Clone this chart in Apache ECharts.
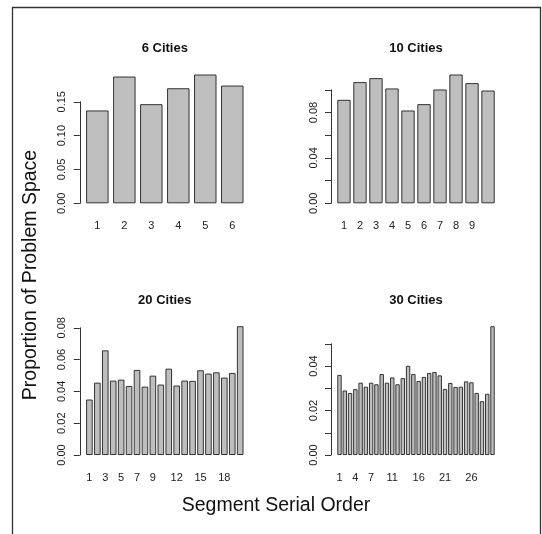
<!DOCTYPE html>
<html>
<head>
<meta charset="utf-8">
<script src="https://cdn.jsdelivr.net/npm/echarts@6/dist/echarts.min.js"></script>
<style>
  html, body { margin: 0; padding: 0; background: #fff; }
  #chart { width: 542px; height: 534px; }
</style>
</head>
<body>
<div id="chart"></div>
<script>
// Share of the problem space covered by each segment, for four tour sizes.
const cats6 = ['1', '2', '3', '4', '5', '6'];
const share6 = [0.1372, 0.1873, 0.1465, 0.1700, 0.1903, 0.1740];

const cats10 = ['1', '2', '3', '4', '5', '6', '7', '8', '9', '10'];
const share10 = [0.0912, 0.1068, 0.1103, 0.1012, 0.0818, 0.0874, 0.1003, 0.1135, 0.1059, 0.0994];

const cats20 = ['1', '2', '3', '4', '5', '6', '7', '8', '9', '10',
                '11', '12', '13', '14', '15', '16', '17', '18', '19', '20'];
const share20 = [0.0349, 0.0455, 0.0658, 0.0468, 0.0474, 0.0434, 0.0535, 0.0430, 0.0499, 0.0443,
                 0.0543, 0.0437, 0.0468, 0.0466, 0.0533, 0.0512, 0.0520, 0.0487, 0.0516, 0.0810];

const cats30 = ['1', '2', '3', '4', '5', '6', '7', '8', '9', '10',
                '11', '12', '13', '14', '15', '16', '17', '18', '19', '20',
                '21', '22', '23', '24', '25', '26', '27', '28', '29', '30'];
const share30 = [0.0360, 0.0290, 0.0279, 0.0296, 0.0325, 0.0307, 0.0325, 0.0318, 0.0364, 0.0325,
                 0.0349, 0.0318, 0.0346, 0.0401, 0.0364, 0.0333, 0.0351, 0.0369, 0.0373, 0.0358,
                 0.0297, 0.0324, 0.0306, 0.0307, 0.0331, 0.0327, 0.0279, 0.0242, 0.0275, 0.0579];

// Category labels that get printed under the bars (crowded ones are skipped).
const xShown6 = ['1', '2', '3', '4', '5', '6'];
const xShown10 = ['1', '2', '3', '4', '5', '6', '7', '8', '9'];
const xShown20 = ['1', '3', '5', '7', '9', '12', '15', '18'];
const xShown30 = ['1', '4', '7', '11', '16', '21', '26'];

// Y axis: last tick, tick step and the tick labels that get printed.
const yTop6 = 0.15, yStep6 = 0.05;
const yShown6 = ['0.00', '0.05', '0.10', '0.15'];
const yTop10 = 0.10, yStep10 = 0.02;
const yShown10 = ['0.00', '0.04', '0.08'];
const yTop20 = 0.08, yStep20 = 0.02;
const yShown20 = ['0.00', '0.02', '0.04', '0.06', '0.08'];
const yTop30 = 0.05, yStep30 = 0.01;
const yShown30 = ['0.00', '0.02', '0.04'];

const titles = ['6 Cities', '10 Cities', '20 Cities', '30 Cities'];

// ---- layout ----
const FONT = 'Liberation Sans, Arial, Helvetica, sans-serif';
const REGION_W = 170;      // width of one plot region
const BAR_H = 128.8;       // pixel height of the tallest bar in each panel
const layout = [
  { left: 79.8, zeroY: 203.3, titleY: 48.3 },
  { left: 331.0, zeroY: 203.3, titleY: 48.3 },
  { left: 79.8, zeroY: 455.0, titleY: 300.0 },
  { left: 331.0, zeroY: 455.0, titleY: 300.0 }
];

const panels = [
  { cats: cats6, vals: share6, xShown: xShown6, yTop: yTop6, yStep: yStep6, yShown: yShown6 },
  { cats: cats10, vals: share10, xShown: xShown10, yTop: yTop10, yStep: yStep10, yShown: yShown10 },
  { cats: cats20, vals: share20, xShown: xShown20, yTop: yTop20, yStep: yStep20, yShown: yShown20 },
  { cats: cats30, vals: share30, xShown: xShown30, yTop: yTop30, yStep: yStep30, yShown: yShown30 }
];

const grids = [], xAxes = [], yAxes = [], series = [], graphics = [];

panels.forEach((p, i) => {
  const lay = layout[i];
  const n = p.cats.length;
  const span = REGION_W / 1.08;               // bars occupy the region minus 4% each side
  const barsLeft = lay.left + 0.04 * span;
  const band = span / (n - 1 / 6);            // bar width 5/6 of a band, gap 1/6
  const gridLeft = barsLeft - band / 12;
  const vmax = Math.max(...p.vals);
  const h = p.yTop / vmax * BAR_H;

  grids.push({
    left: gridLeft, width: band * n,
    top: lay.zeroY - h, height: h,
    outerBoundsMode: 'none'
  });

  xAxes.push({
    gridIndex: i,
    type: 'category',
    data: p.cats,
    axisLine: { show: false },
    axisTick: { show: false },
    axisLabel: {
      interval: (idx, val) => p.xShown.includes(val),
      fontFamily: FONT, fontSize: 11, color: '#222', margin: 17
    }
  });

  yAxes.push({
    gridIndex: i,
    type: 'value',
    min: 0, max: p.yTop, interval: p.yStep,
    offset: gridLeft - lay.left,
    axisLine: { show: true, lineStyle: { color: '#333', width: 1 } },
    axisTick: { show: true, length: 6, lineStyle: { color: '#333', width: 1 } },
    splitLine: { show: false },
    axisLabel: {
      rotate: 90,
      fontFamily: FONT, fontSize: 11, color: '#222', margin: 12,
      formatter: v => {
        const s = v.toFixed(2);
        return p.yShown.includes(s) ? s : '';
      }
    }
  });

  series.push({
    type: 'bar',
    xAxisIndex: i, yAxisIndex: i,
    data: p.vals,
    barCategoryGap: '16.667%',
    clip: false,
    silent: true,
    itemStyle: { color: '#bebebe', borderColor: '#333', borderWidth: 1 }
  });

  graphics.push({
    type: 'text',
    x: lay.left + REGION_W / 2, y: lay.titleY,
    style: {
      text: titles[i], align: 'center', verticalAlign: 'middle',
      font: 'bold 13px ' + FONT, fill: '#111'
    }
  });
});

// outer frame
graphics.push({
  type: 'polyline',
  shape: { points: [[12.5, 534], [12.5, 7.5], [540.5, 7.5], [540.5, 534]] },
  style: { stroke: '#333', lineWidth: 1.3, fill: null }
});

// shared axis titles
graphics.push({
  type: 'text',
  x: 276, y: 506,
  style: {
    text: 'Segment Serial Order', align: 'center', verticalAlign: 'middle',
    font: '19.5px ' + FONT, fill: '#111'
  }
});
graphics.push({
  type: 'text',
  x: 31, y: 275,
  rotation: Math.PI / 2,
  style: {
    text: 'Proportion of Problem Space', align: 'center', verticalAlign: 'middle',
    font: '19.5px ' + FONT, fill: '#111'
  }
});

const chart = echarts.init(document.getElementById('chart'), null, { renderer: 'canvas' });
chart.setOption({
  animation: false,
  backgroundColor: '#fff',
  grid: grids,
  xAxis: xAxes,
  yAxis: yAxes,
  series: series,
  graphic: graphics
});
</script>
</body>
</html>
